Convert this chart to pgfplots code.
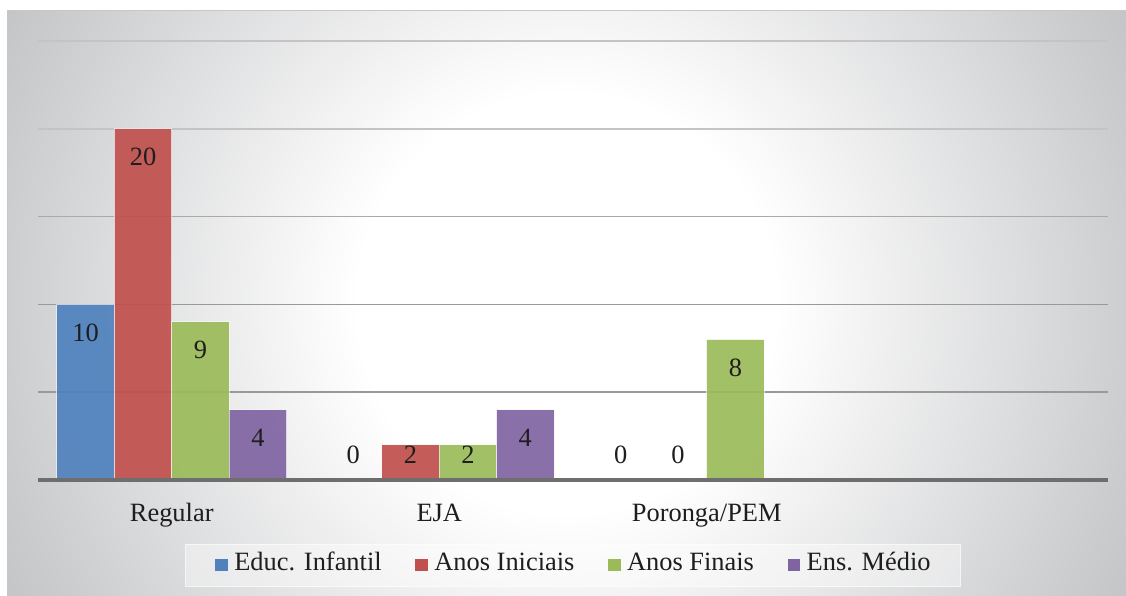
\documentclass[border=0pt]{standalone}
\usepackage{pgfplots}
\pgfplotsset{compat=1.18}
\usepackage{fontspec}
\setmainfont{Liberation Serif}
\definecolor{cBlue}{RGB}{79,129,189}
\definecolor{cRed}{RGB}{192,80,77}
\definecolor{cGreen}{RGB}{155,187,89}
\definecolor{cPurple}{RGB}{128,100,162}
\definecolor{bgmid}{RGB}{205,206,208}
\definecolor{bgedge}{RGB}{196,197,199}
\definecolor{gridA}{RGB}{153,153,153}
\definecolor{gridB}{RGB}{170,170,170}
\definecolor{gridC}{RGB}{196,196,196}
\definecolor{axisgray}{RGB}{110,110,110}
\definecolor{txt}{RGB}{30,30,30}
\pgfdeclareradialshading{chartbg}{\pgfpoint{0bp}{0bp}}{color(0bp)=(white); color(8.2bp)=(white); color(21.9bp)=(bgmid); color(24.7bp)=(bgedge); color(50bp)=(bgedge)}
\newcommand\chartfont{\fontsize{26.5}{30}\selectfont}
\pgfplotsset{
  mybar/.style={ybar, bar width=0.2146, bar shift=0pt, draw=white, draw opacity=0.6, line width=1bp,
    fill=#1, fill opacity=0.92,
    nodes near coords,
    visualization depends on={rawy \as \rawy},
    every node near coord/.append style={anchor=center, text=txt, text opacity=1,
      font=\chartfont, inner sep=0pt, yshift={max(-28.5,25.5-17.56*\rawy)}},
    legend image code/.code={\fill[fill=#1, draw=none, fill opacity=1] (0bp,-4.5bp) rectangle (12.5bp,8bp); \path[draw=none,fill=none] (0bp,0bp) -- (19bp,0bp);}
  }
}
\begin{document}
\begin{tikzpicture}
\begin{scope}[x=1bp,y=1bp]
\fill[white] (0,0) rectangle (1126,596);
\begin{scope}
\clip (7,0) rectangle (1126,585);
\shade[shading=chartbg] (-73.5,-347.5) rectangle (1206.5,932.5);
\end{scope}
\draw[black!22, line width=1bp] (7.5,0) -- (7.5,585.5) -- (1126,585.5);
\end{scope}
\begin{axis}[
  at={(38bp,116bp)}, anchor=south west,
  scale only axis, width=1070bp, height=439bp,
  xmin=-0.5, xmax=3.5, ymin=0, ymax=25,
  clip=false,
  axis line style={draw=none},
  tick style={draw=none},
  /pgf/number format/assume math mode=true,
  xtick={0,1,2}, xticklabels={Regular,EJA,Poronga/PEM},
  xticklabel style={font=\chartfont, text=txt, anchor=north, inner sep=0pt,
    text height=0.7em, text depth=0.2em, yshift=-34bp},
  ytick={5,10}, minor ytick={15}, extra y ticks={20,25},
  yticklabels={}, extra y tick labels={},
  ymajorgrids, yminorgrids,
  major grid style={draw=gridA, line width=1.5bp},
  minor grid style={draw=gridB, line width=1.5bp},
  extra y tick style={ymajorgrids=true, major grid style={draw=gridC, line width=1.5bp}},
  legend columns=4,
  legend style={at={(0.5,-0.194)}, anchor=center, fill=white, fill opacity=0.4,
    draw=white, draw opacity=0.6, text opacity=1, inner xsep=30bp, inner ysep=15bp,
    font=\chartfont, text=txt,
    /tikz/every even column/.append style={column sep=33.7bp},
    nodes={inner sep=0pt, text height=0.85em, text depth=0.13em}},
  legend cell align=left,
]
\addplot[mybar=cBlue] coordinates {(-0.3219,10) (0.6781,0) (1.6781,0)};
\addlegendentry{Educ. Infantil}
\addplot[mybar=cRed] coordinates {(-0.1073,20) (0.8927,2) (1.8927,0)};
\addlegendentry{Anos Iniciais}
\addplot[mybar=cGreen] coordinates {(0.1073,9) (1.1073,2) (2.1073,8)};
\addlegendentry{Anos Finais}
\addplot[mybar=cPurple] coordinates {(0.3219,4) (1.3219,4)};
\addlegendentry{Ens. Médio}
\addplot[forget plot, line width=3.3bp, axisgray] coordinates {(-0.5,0) (3.5,0)};
\end{axis}
\pgfresetboundingbox
\path[use as bounding box] (0,0) rectangle (1126bp,596bp);
\end{tikzpicture}
\end{document}
